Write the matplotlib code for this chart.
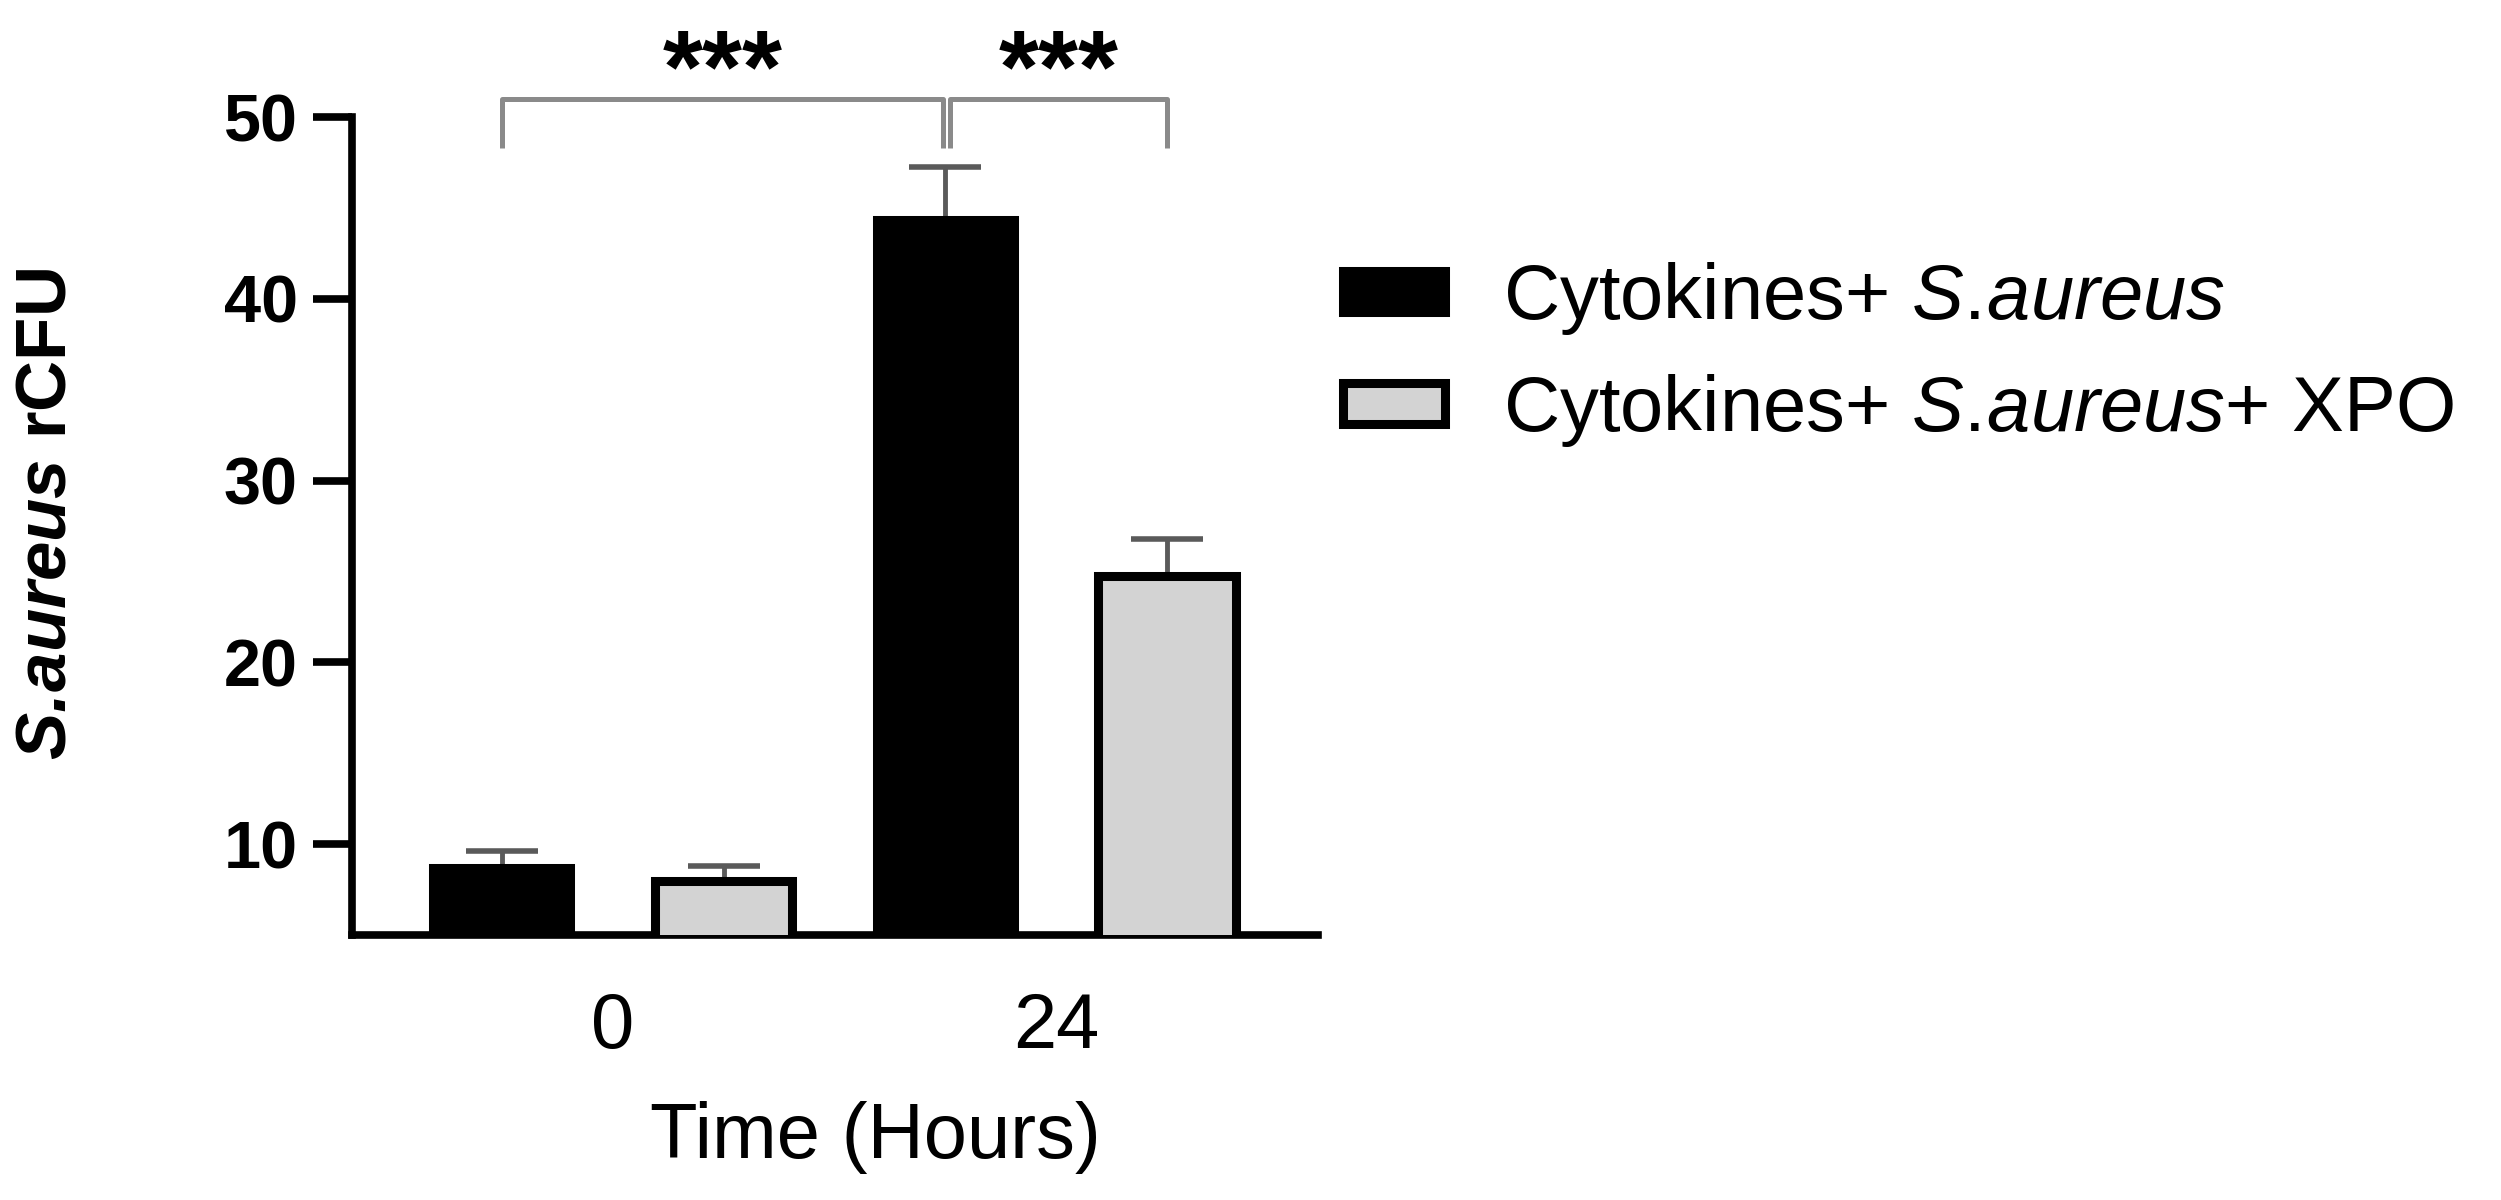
import matplotlib.pyplot as plt
import numpy as np

plt.rcParams['font.family'] = 'Liberation Sans'
plt.rcParams['mathtext.fontset'] = 'custom'
plt.rcParams['mathtext.rm'] = 'Liberation Sans'
plt.rcParams['mathtext.it'] = 'Liberation Sans:italic'
plt.rcParams['mathtext.bf'] = 'Liberation Sans:bold'
plt.rcParams['mathtext.bfit'] = 'Liberation Sans:italic:bold'

# data
times = ['0', '24']
labels = ['Cytokines+ $\\mathit{S.\\!aureus}$', 'Cytokines+ $\\mathit{S.\\!aureus}$+ XPO']
mean_sa = [8.7, 44.35]
err_sa = [0.95, 2.9]
mean_xpo = [7.95, 24.75]
err_xpo = [0.85, 2.05]
stars = ['***', '***']

fig = plt.figure(figsize=(25.01, 12), dpi=100)
ax = fig.add_axes([0.1407, 0.2208, 0.3862, 0.6817])

x = np.arange(len(times))
off = 0.25
w = 0.309
lw_bar = 6.5

b1 = ax.bar(x - off, mean_sa, w, color='black', edgecolor='black', linewidth=lw_bar,
            label=labels[0], zorder=3)
b2 = ax.bar(x + off, mean_xpo, w, color='#d3d3d3', edgecolor='black', linewidth=lw_bar,
            label=labels[1], zorder=3)

for xs, m, e in [(x - off, mean_sa, err_sa), (x + off, mean_xpo, err_xpo)]:
    ax.errorbar(xs, m, yerr=[np.zeros(len(e)), e], fmt='none', ecolor='#5a5a5a',
                elinewidth=3.5, capsize=26, capthick=4, zorder=2)

ax.set_xlim(-0.588, 1.59)
ax.set_ylim(5, 50)
ax.set_yticks([10, 20, 30, 40, 50])
ax.set_xticks(x)
ax.set_xticklabels(times)

for s in ['top', 'right']:
    ax.spines[s].set_visible(False)
for s in ['left', 'bottom']:
    ax.spines[s].set_linewidth(5.5)

ax.tick_params(axis='y', length=28, width=5.5, pad=11, labelsize=48)
for t in ax.get_yticklabels():
    t.set_fontweight('bold')
ax.tick_params(axis='x', length=0, pad=40, labelsize=56)

# significance brackets
gray = '#8a8a8a'
brackets = [(-0.25, 0.745), (0.76, 1.25)]
for (xa, xb), st in zip(brackets, stars):
    ax.plot([xa, xa, xb, xb], [48.3, 51, 51, 48.3], color=gray, lw=3.6,
            clip_on=False, solid_capstyle='butt', zorder=4)
    ax.text((xa + xb) / 2, 50.8, st, ha='center', va='baseline', fontsize=74,
            fontweight='bold', clip_on=False)

fig.text(875 / 2501, 42 / 1200, 'Time (Hours)', ha='center', va='baseline', fontsize=56)
fig.text(48 / 2501, 1 - 514 / 1200, r'$\mathbfit{S.\!aureus}$ rCFU', rotation=90,
         ha='center', va='center', fontsize=51, fontweight='bold')

ax.legend(handles=[b1, b2], loc='upper left', bbox_to_anchor=(1343 / 2501, 0.783),
          bbox_transform=fig.transFigure, frameon=False, fontsize=56,
          handlelength=1.31, handleheight=0.44, handletextpad=0.75,
          labelspacing=0.45, borderpad=0, borderaxespad=0)

fig.savefig('out.png', dpi=100)
